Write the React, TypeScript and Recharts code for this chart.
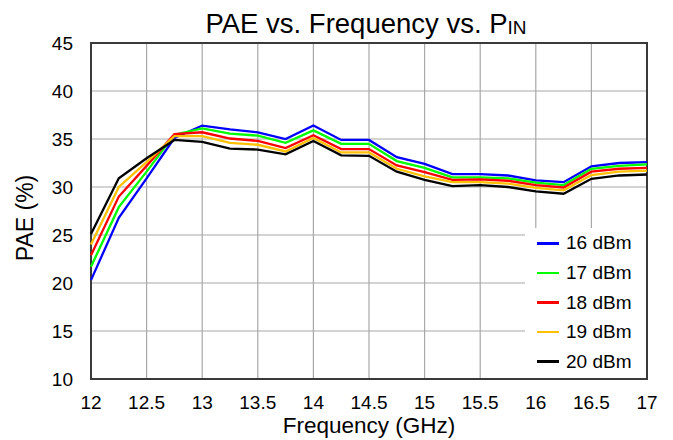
import React from "react";
import {
  LineChart,
  Line,
  XAxis,
  YAxis,
  CartesianGrid,
  Legend,
  ReferenceArea,
} from "recharts";

const freqGHz = [12, 12.25, 12.5, 12.75, 13, 13.25, 13.5, 13.75, 14, 14.25, 14.5, 14.75, 15, 15.25, 15.5, 15.75, 16, 16.25, 16.5, 16.75, 17];
const pae16 = [20.3, 26.8, 30.9, 35.1, 36.4, 36.0, 35.7, 35.0, 36.4, 34.9, 34.9, 33.1, 32.4, 31.35, 31.35, 31.2, 30.7, 30.5, 32.15, 32.5, 32.6];
const pae17 = [21.7, 27.9, 31.6, 35.45, 36.1, 35.55, 35.35, 34.6, 35.9, 34.5, 34.5, 32.7, 32.0, 31.0, 31.0, 30.9, 30.45, 30.2, 31.9, 32.2, 32.35];
const pae18 = [22.9, 29.0, 32.2, 35.5, 35.7, 35.05, 34.8, 34.05, 35.4, 33.95, 33.95, 32.25, 31.55, 30.75, 30.8, 30.65, 30.2, 29.95, 31.6, 31.9, 32.0];
const pae19 = [24.0, 30.0, 32.6, 35.3, 35.3, 34.6, 34.4, 33.7, 35.1, 33.6, 33.6, 31.9, 31.1, 30.5, 30.5, 30.35, 29.9, 29.65, 31.25, 31.6, 31.7];
const pae20 = [25.1, 30.9, 33.0, 34.9, 34.7, 34.0, 33.9, 33.4, 34.8, 33.3, 33.25, 31.6, 30.75, 30.1, 30.2, 30.0, 29.55, 29.3, 30.85, 31.2, 31.3];

const xTicks = [12, 12.5, 13, 13.5, 14, 14.5, 15, 15.5, 16, 16.5, 17];
const yTicks = [10, 15, 20, 25, 30, 35, 40, 45];

const seriesNames = ["16 dBm", "17 dBm", "18 dBm", "19 dBm", "20 dBm"];
const seriesKeys = ["p16", "p17", "p18", "p19", "p20"];
const seriesColors = ["#0000FF", "#00FF00", "#FF0000", "#FFC000", "#000000"];

const data = freqGHz.map((f, i) => ({
  f,
  p16: pae16[i],
  p17: pae17[i],
  p18: pae18[i],
  p19: pae19[i],
  p20: pae20[i],
}));

const FONT = "'Liberation Sans', Arial, sans-serif";

const renderLegend = (props: any) => {
  const payload = props.payload || [];
  return (
    <div style={{ position: "relative", width: "100%", height: "100%", background: "#fff" }}>
      {payload.map((e: any, i: number) => (
        <div
          key={i}
          style={{
            position: "absolute",
            left: 12,
            top: 15.3 + i * 29.6 - 12,
            height: 24,
            display: "flex",
            alignItems: "center",
            whiteSpace: "nowrap",
          }}
        >
          <span style={{ display: "inline-block", width: 22, height: 2.5, background: e.color }} />
          <span style={{ marginLeft: 7, fontSize: 19, fontFamily: FONT, lineHeight: "24px", color: "#000" }}>
            {e.value}
          </span>
        </div>
      ))}
    </div>
  );
};

export default function App() {
  return (
    <div style={{ position: "absolute", left: 0, top: 0, width: 673, height: 440, background: "#fff" }}>
      <LineChart
        width={673}
        height={440}
        data={data}
        margin={{ top: 43, right: 26, bottom: 0, left: 0 }}
      >
        <CartesianGrid stroke="#A8A8A8" strokeWidth={1.2} />
        <XAxis
          dataKey="f"
          type="number"
          domain={[12, 17]}
          ticks={xTicks}
          height={61}
          tickLine={false}
          axisLine={false}
          tickSize={0}
          tickMargin={17}
          tick={{ fill: "#000", fontSize: 19, fontFamily: FONT }}
        />
        <YAxis
          type="number"
          domain={[10, 45]}
          ticks={yTicks}
          width={91}
          tickLine={false}
          axisLine={false}
          tickSize={0}
          tickMargin={18}
          tick={{ fill: "#000", fontSize: 19, fontFamily: FONT }}
        />
        {seriesKeys.map((k, i) => (
          <Line
            key={k}
            type="linear"
            dataKey={k}
            name={seriesNames[i]}
            stroke={seriesColors[i]}
            strokeWidth={2.3}
            dot={false}
            activeDot={false}
            isAnimationActive={false}
          />
        ))}
        <Legend
          layout="vertical"
          align="center"
          verticalAlign="middle"
          content={renderLegend}
          wrapperStyle={{ position: "absolute", left: 525, top: 228, width: 121, height: 150 }}
        />
        <ReferenceArea
          x1={12}
          x2={17}
          y1={10}
          y2={45}
          fill="none"
          fillOpacity={0}
          stroke="#3A3A3A"
          strokeWidth={2}
          ifOverflow="visible"
        />
      </LineChart>
      <svg
        width={673}
        height={440}
        style={{ position: "absolute", left: 0, top: 0, pointerEvents: "none" }}
      >
        <text x={366} y={33} textAnchor="middle" fontSize={27.5} fontFamily={FONT} fill="#000">
          PAE vs. Frequency vs. P<tspan fontSize={19} dy={1}>IN</tspan>
        </text>
        <text x={369} y={433} textAnchor="middle" fontSize={22.5} fontFamily={FONT} fill="#000">
          Frequency (GHz)
        </text>
        <text
          x={33}
          y={218}
          textAnchor="middle"
          fontSize={23}
          fontFamily={FONT}
          fill="#000"
          transform="rotate(-90 33 218)"
        >
          PAE (%)
        </text>
      </svg>
    </div>
  );
}
